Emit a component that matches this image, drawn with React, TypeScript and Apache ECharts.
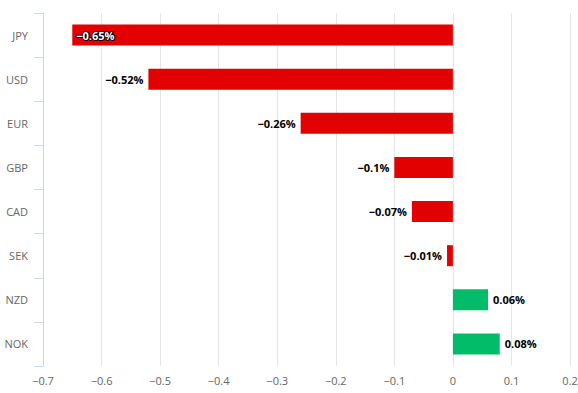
import React, { useEffect, useRef } from "react";
import * as echarts from "echarts";

const categories = ["JPY", "USD", "EUR", "GBP", "CAD", "SEK", "NZD", "NOK"];
const values = [-0.65, -0.52, -0.26, -0.1, -0.07, -0.01, 0.06, 0.08];
const xTicks = { min: -0.7, max: 0.2, interval: 0.1 };

const RED = "#e30000";
const GREEN = "#02bc6a";
const FONT = "'Open Sans', 'DejaVu Sans', sans-serif";

export default function App() {
  const ref = useRef<HTMLDivElement>(null);
  useEffect(() => {
    const chart = echarts.init(ref.current!, null, { renderer: "svg" });
    const data = values.map((v, i) => {
      const item: any = {
        value: v,
        itemStyle: { color: v < 0 ? RED : GREEN },
        label: {
          show: true,
          position: v < 0 ? "left" : "right",
          distance: 5,
        },
      };
      if (i === 0) {
        item.label = {
          show: true,
          position: "insideLeft",
          distance: 4,
          color: "#fff",
          textBorderColor: "#000",
          textBorderWidth: 2,
        };
      }
      return item;
    });
    chart.setOption({
      animation: false,
      grid: {
        left: 43,
        right: 8,
        top: 13,
        bottom: 27,
        containLabel: false,
        outerBoundsMode: "none",
      },
      xAxis: {
        type: "value",
        min: xTicks.min,
        max: xTicks.max,
        interval: xTicks.interval,
        axisLine: { show: false },
        axisTick: { show: false },
        splitLine: { show: true, lineStyle: { color: "#e6e6e6", width: 1 } },
        axisLabel: {
          color: "#666",
          fontSize: 11,
          fontFamily: FONT,
          margin: 9,
          formatter: (v: number) => {
            const r = Math.round(v * 10) / 10;
            return r === 0 ? "0" : r < 0 ? "\u2212" + Math.abs(r) : String(r);
          },
        },
      },
      yAxis: {
        type: "category",
        data: categories,
        inverse: true,
        axisLine: { show: true, onZero: false, lineStyle: { color: "#ccd6eb" } },
        axisTick: { show: true, length: 9, lineStyle: { color: "#ccd6eb" } },
        axisLabel: { color: "#666", fontSize: 11, fontFamily: FONT, margin: 15 },
        splitLine: { show: false },
      },
      series: [
        {
          type: "bar",
          data,
          barWidth: 21,
          label: {
            show: true,
            fontSize: 11,
            fontWeight: "bold",
            color: "#000",
            fontFamily: FONT,
            formatter: (p: any) => {
              const v = p.value as number;
              return (v < 0 ? "\u2212" + Math.abs(v) : String(v)) + "%";
            },
          },
        },
      ],
    });
    return () => chart.dispose();
  }, []);
  return (
    <div
      ref={ref}
      style={{ position: "absolute", left: 0, top: 0, width: 578, height: 393 }}
    />
  );
}
